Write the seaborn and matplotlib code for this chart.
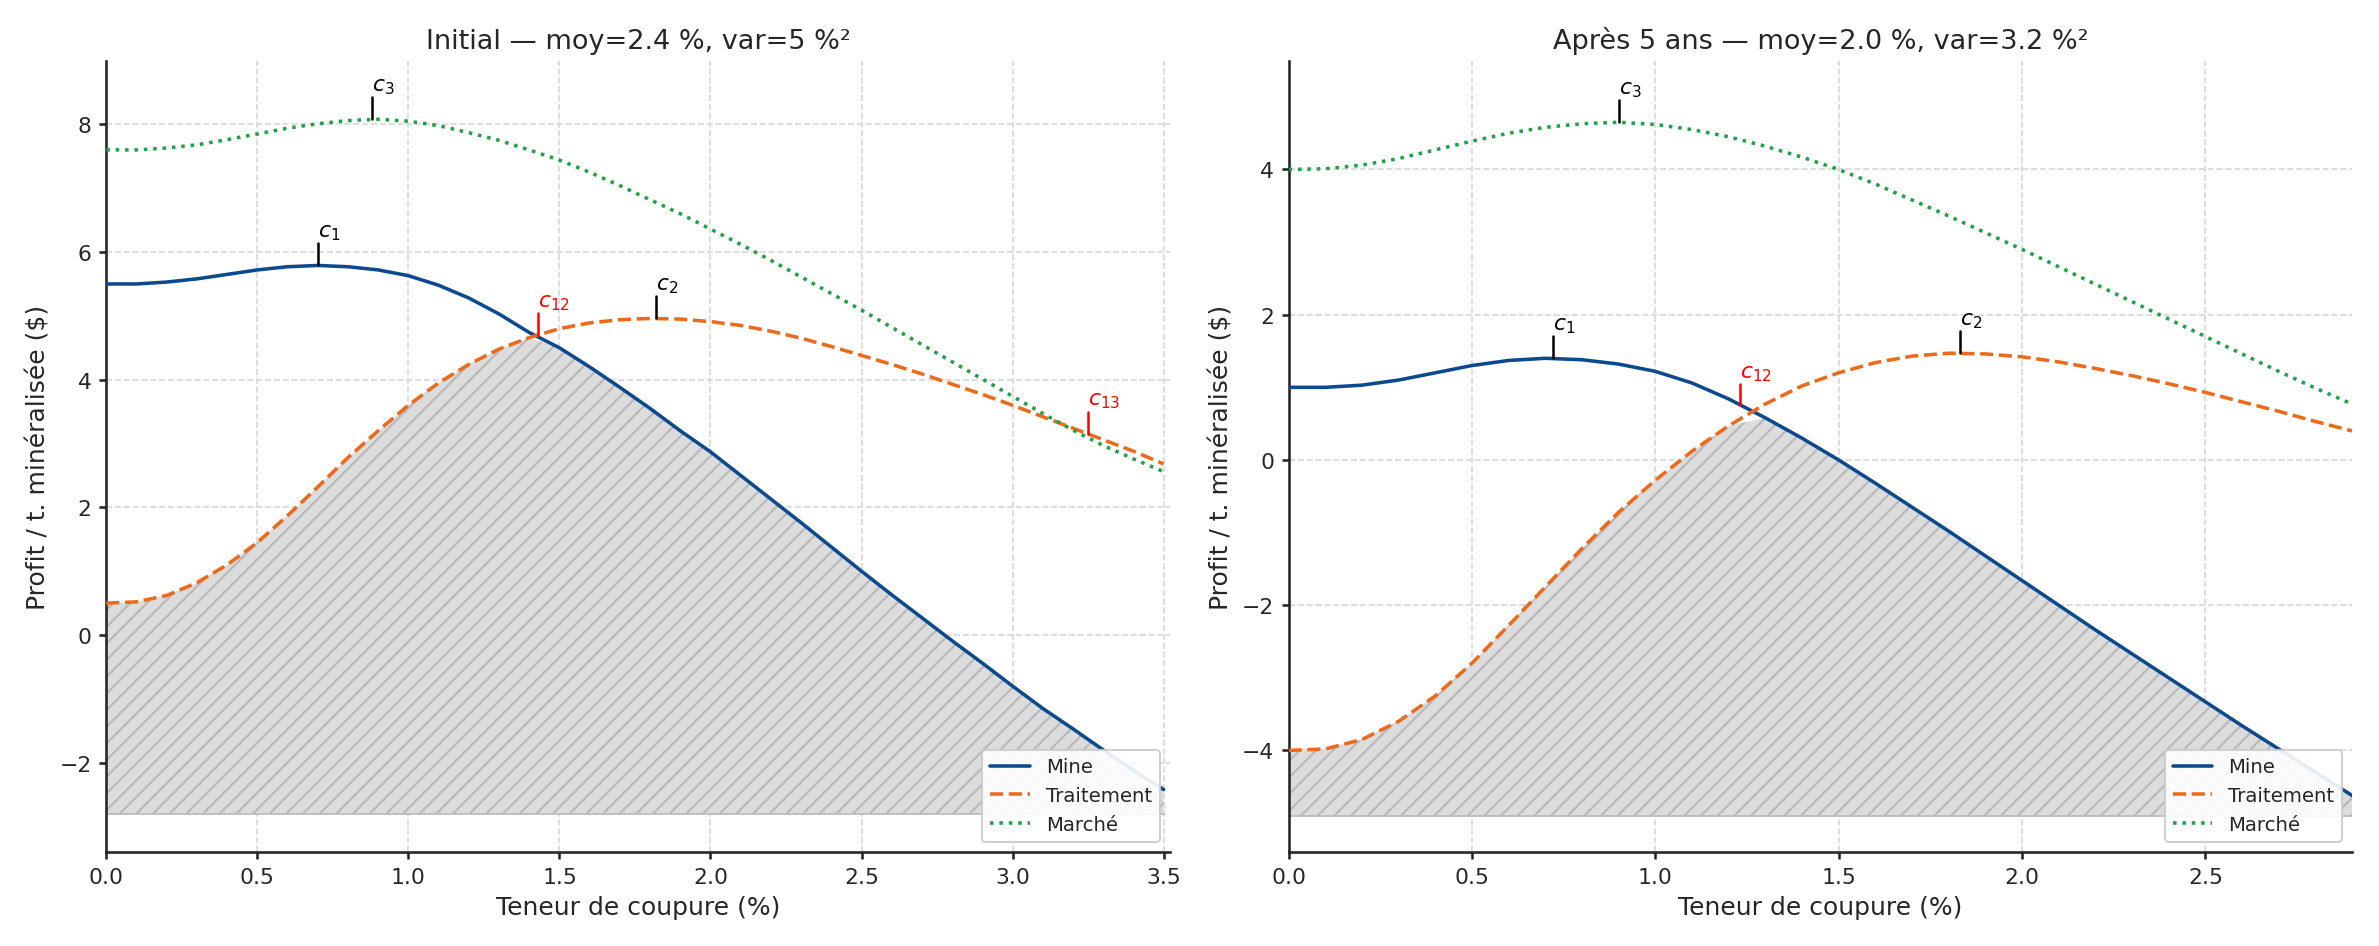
import numpy as np
import pandas as pd
import matplotlib
matplotlib.use("Agg")
import matplotlib.pyplot as plt
import seaborn as sns

# Left panel data (x step 0.1 from 0 to 3.5)
x_left = [round(0.1 * i, 1) for i in range(36)]
mine_left = [5.50, 5.50, 5.53, 5.58, 5.65, 5.72, 5.77, 5.79, 5.77, 5.72, 5.63, 5.48, 5.28, 5.03, 4.74,
             4.50, 4.20, 3.88, 3.55, 3.20, 2.87, 2.50, 2.13, 1.76, 1.38, 1.00, 0.63, 0.27, -0.09, -0.44,
             -0.80, -1.15, -1.47, -1.80, -2.12, -2.42]
trait_left = [0.50, 0.52, 0.62, 0.82, 1.10, 1.45, 1.87, 2.32, 2.78, 3.20, 3.60, 3.95, 4.24, 4.48, 4.66,
              4.80, 4.89, 4.94, 4.96, 4.95, 4.91, 4.85, 4.76, 4.65, 4.52, 4.38, 4.24, 4.09, 3.93, 3.77,
              3.60, 3.42, 3.24, 3.06, 2.88, 2.68]
march_left = [7.60, 7.60, 7.63, 7.68, 7.76, 7.85, 7.94, 8.01, 8.06, 8.08, 8.05, 7.98, 7.87, 7.75, 7.60,
              7.44, 7.25, 7.04, 6.82, 6.60, 6.36, 6.12, 5.87, 5.61, 5.35, 5.09, 4.82, 4.55, 4.28, 4.01,
              3.74, 3.47, 3.21, 2.97, 2.76, 2.56]

# Right panel data (x step 0.1 from 0 to 2.9)
x_right = [round(0.1 * i, 1) for i in range(30)]
mine_right = [1.00, 1.00, 1.03, 1.10, 1.20, 1.30, 1.37, 1.40, 1.38, 1.32, 1.22, 1.06, 0.84, 0.58, 0.30,
              0.00, -0.32, -0.65, -0.98, -1.32, -1.66, -2.00, -2.34, -2.67, -3.00, -3.33, -3.66, -3.98,
              -4.30, -4.62]
trait_right = [-4.00, -3.98, -3.85, -3.60, -3.25, -2.80, -2.28, -1.75, -1.22, -0.72, -0.28, 0.12, 0.47,
               0.77, 1.02, 1.20, 1.34, 1.43, 1.47, 1.46, 1.42, 1.35, 1.26, 1.16, 1.05, 0.93, 0.80, 0.67,
               0.53, 0.40]
march_right = [4.00, 4.01, 4.06, 4.15, 4.27, 4.39, 4.50, 4.58, 4.63, 4.65, 4.62, 4.55, 4.45, 4.32, 4.17,
               4.00, 3.80, 3.58, 3.36, 3.13, 2.90, 2.66, 2.42, 2.18, 1.94, 1.70, 1.46, 1.22, 0.99, 0.77]

# Annotations: (label, x, y, colour)
ann_left = [("$c_1$", 0.70, 5.79, "black"), ("$c_2$", 1.82, 4.96, "black"), ("$c_3$", 0.88, 8.08, "black"),
            ("$c_{12}$", 1.43, 4.70, "red"), ("$c_{13}$", 3.25, 3.15, "red")]
ann_right = [("$c_1$", 0.72, 1.40, "black"), ("$c_2$", 1.83, 1.47, "black"), ("$c_3$", 0.90, 4.65, "black"),
             ("$c_{12}$", 1.23, 0.75, "red")]

titles = ["Initial — moy=2.4 %, var=5 %²", "Après 5 ans — moy=2.0 %, var=3.2 %²"]
base = [-2.8, -4.9]
ylims = [(-3.4, 9.0), (-5.4, 5.5)]
xlims = [(0, 3.52), (0, 2.9)]
tick_offsets = [0.35, 0.3]

sns.set_theme(style="ticks", rc={"xtick.labelsize": 10.5, "ytick.labelsize": 10.5,
                                 "xtick.major.size": 3.5, "ytick.major.size": 3.5})
plt.rcParams['font.family'] = ['DejaVu Sans']
fig, axes = plt.subplots(1, 2, figsize=(15.86, 6.313), dpi=150)
C_M, C_T, C_K = "#0b4a8f", "#ee6a1a", "#1fa347"

datasets = [(x_left, mine_left, trait_left, march_left, ann_left),
            (x_right, mine_right, trait_right, march_right, ann_right)]
for i, (ax, (xs, m, t, k, anns)) in enumerate(zip(axes, datasets)):
    df = pd.DataFrame({"x": xs, "Mine": m, "Traitement": t, "Marché": k})
    lo = np.minimum(df["Mine"], df["Traitement"])
    ax.fill_between(df["x"], base[i], lo, facecolor="#dcdcdc", edgecolor="#b8b8b8",
                    hatch="///", linewidth=0.0, zorder=1)
    ax.plot([0, xs[-1]], [base[i], base[i]], color="#b8b8b8", lw=0.8, zorder=1)
    sns.lineplot(data=df, x="x", y="Mine", ax=ax, color=C_M, lw=1.7, label="Mine", zorder=3)
    sns.lineplot(data=df, x="x", y="Traitement", ax=ax, color=C_T, lw=1.7, ls="--", label="Traitement", zorder=3)
    sns.lineplot(data=df, x="x", y="Marché", ax=ax, color=C_K, lw=1.7, ls=":", label="Marché", zorder=3)
    d = tick_offsets[i]
    for lab, xa, ya, col in anns:
        ax.plot([xa, xa], [ya, ya + d], color=col, lw=1.2, zorder=4)
        ax.text(xa, ya + d * 1.05, lab, color=col, fontsize=10.5, ha="left", va="bottom")
    ax.set_xlim(*xlims[i])
    ax.set_ylim(*ylims[i])
    ax.grid(True, ls="--", color="#d8d8d8", lw=0.8)
    ax.set_axisbelow(True)
    ax.set_title(titles[i], fontsize=13)
    ax.set_xlabel("Teneur de coupure (%)", fontsize=12)
    ax.set_ylabel("Profit / t. minéralisée ($)", fontsize=12)
    ax.legend(loc="lower right", fontsize=9.5, framealpha=0.9)
    sns.despine(ax=ax)

fig.tight_layout()
fig.savefig("out.png", dpi=150)
